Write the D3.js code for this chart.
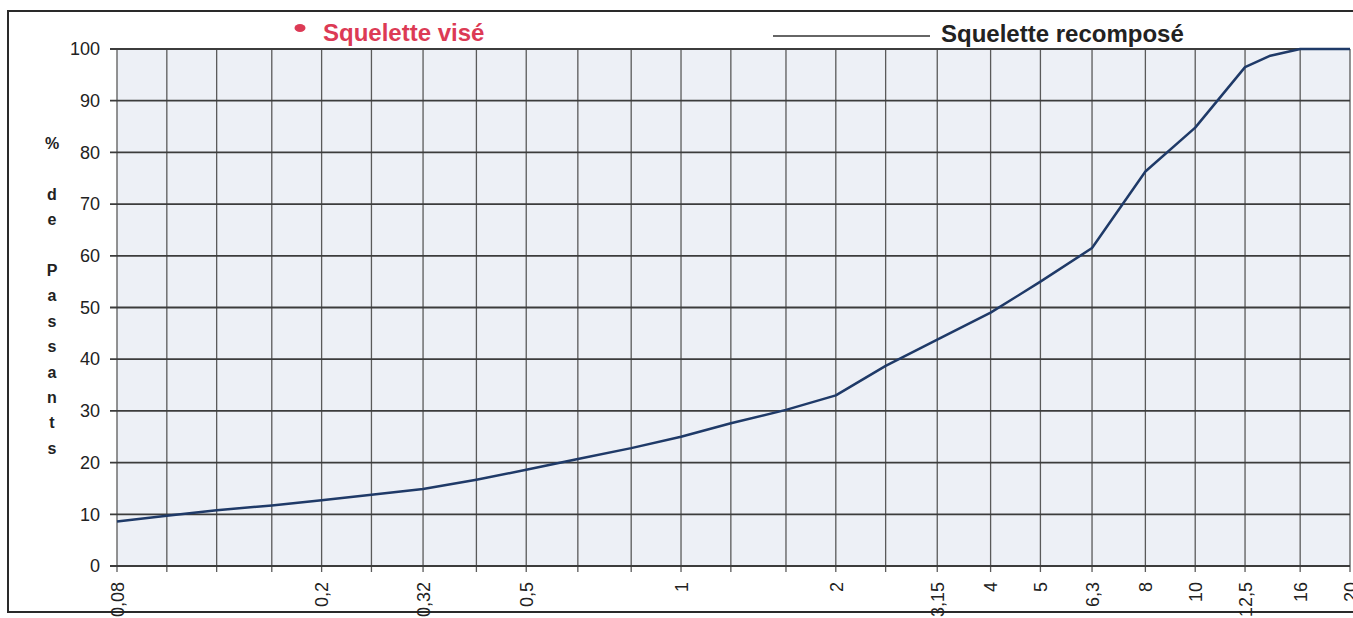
<!DOCTYPE html>
<html>
<head>
<meta charset="utf-8">
<script src="https://cdn.jsdelivr.net/npm/d3@7"></script>
<style>
  body { margin: 0; background: #fff; }
  svg { display: block; font-family: "Liberation Sans", Arial, sans-serif; }
</style>
</head>
<body>
<svg id="chart"></svg>
<script>
// sieve series (mm) used for the vertical grid
const sieves = [0.08, 0.1, 0.125, 0.16, 0.2, 0.25, 0.315, 0.4, 0.5, 0.63, 0.8, 1, 1.25, 1.6, 2, 2.5, 3.15, 4, 5, 6.3, 8, 10, 12.5, 16, 20];
// labelled sieves and their labels
const labelSieves = [0.08, 0.2, 0.315, 0.5, 1, 2, 3.15, 4, 5, 6.3, 8, 10, 12.5, 16, 20];
const sieveLabels = ["0,08", "0,2", "0,32", "0,5", "1", "2", "3,15", "4", "5", "6,3", "8", "10", "12,5", "16", "20"];
// Squelette recomposé curve
const curveSieves = [0.08, 0.1, 0.125, 0.16, 0.2, 0.25, 0.315, 0.4, 0.5, 0.63, 0.8, 1, 1.25, 1.6, 2, 2.5, 3.15, 4, 5, 6.3, 8, 10, 12.5, 14, 16, 20];
const curvePassing = [8.6, 9.7, 10.8, 11.7, 12.7, 13.8, 14.9, 16.7, 18.6, 20.7, 22.8, 25.0, 27.6, 30.2, 33.0, 38.7, 43.8, 49.0, 55.0, 61.5, 76.3, 84.8, 96.5, 98.7, 100, 100];
const yTicks = [0, 10, 20, 30, 40, 50, 60, 70, 80, 90, 100];
const yTitle = ["%", "", "d", "e", "", "P", "a", "s", "s", "a", "n", "t", "s"];
const legendTarget = "Squelette visé";
const legendCurve = "Squelette recomposé";

const width = 1353;
const height = 618;
const marginLeft = 117;
const marginRight = 3;
const marginTop = 49;
const marginBottom = 52;

const svg = d3.select("#chart")
    .attr("width", width)
    .attr("height", height)
    .attr("viewBox", [0, 0, width, height]);

const x = d3.scaleLog()
    .domain([0.08, 20])
    .range([marginLeft, width - marginRight]);

const y = d3.scaleLinear()
    .domain([0, 100])
    .range([height - marginBottom, marginTop]);

// outer frame
svg.append("rect")
    .attr("x", 8).attr("y", 11)
    .attr("width", width + 10).attr("height", 601)
    .attr("fill", "none")
    .attr("stroke", "#2a2a2a")
    .attr("stroke-width", 2);

// plot background
svg.append("rect")
    .attr("x", x(0.08)).attr("y", y(100))
    .attr("width", x(20) - x(0.08)).attr("height", y(0) - y(100))
    .attr("fill", "#edf0f6");

// vertical grid (goes a bit under the axis like ticks)
svg.append("g")
    .selectAll("line")
    .data(sieves)
    .join("line")
    .attr("x1", d => x(d)).attr("x2", d => x(d))
    .attr("y1", y(100)).attr("y2", y(0) + 6)
    .attr("stroke", "#5a5a5a")
    .attr("stroke-width", 1.3);

// horizontal grid
svg.append("g")
    .selectAll("line")
    .data(yTicks)
    .join("line")
    .attr("x1", marginLeft - 7).attr("x2", x(20))
    .attr("y1", d => y(d)).attr("y2", d => y(d))
    .attr("stroke", "#3c3c3c")
    .attr("stroke-width", 1.8);

// y axis labels
const yAxis = svg.append("g")
    .attr("transform", `translate(${marginLeft},0)`)
    .call(d3.axisLeft(y).tickValues(yTicks).tickSize(0).tickPadding(17));
yAxis.select(".domain").remove();
yAxis.selectAll("text")
    .attr("font-size", 18)
    .attr("font-family", "Liberation Sans, Arial, sans-serif")
    .attr("fill", "#222");

// x axis labels, rotated
const xAxis = svg.append("g")
    .attr("transform", `translate(0,${y(0)})`)
    .call(d3.axisBottom(x)
        .tickValues(labelSieves)
        .tickFormat((d, i) => sieveLabels[i])
        .tickSize(0));
xAxis.select(".domain").remove();
xAxis.selectAll("text")
    .attr("font-size", 18)
    .attr("font-family", "Liberation Sans, Arial, sans-serif")
    .attr("fill", "#222")
    .attr("transform", "rotate(-90)")
    .attr("text-anchor", "end")
    .attr("x", -16)
    .attr("y", 0)
    .attr("dy", "0.35em");

// y title, one letter per row
svg.append("g")
    .selectAll("text")
    .data(yTitle)
    .join("text")
    .attr("x", 52)
    .attr("y", (d, i) => 149 + i * 25.4)
    .attr("text-anchor", "middle")
    .attr("font-size", 16)
    .attr("font-weight", "bold")
    .attr("fill", "#222")
    .text(d => d);

// the curve
const line = d3.line()
    .x((d, i) => x(curveSieves[i]))
    .y(d => y(d));

svg.append("path")
    .datum(curvePassing)
    .attr("fill", "none")
    .attr("stroke", "#1f3a68")
    .attr("stroke-width", 2.5)
    .attr("stroke-linejoin", "round")
    .attr("d", line);

// legend
svg.append("ellipse")
    .attr("cx", 300).attr("cy", 28)
    .attr("rx", 5.5).attr("ry", 4)
    .attr("fill", "#dc3a55");
svg.append("text")
    .attr("x", 323).attr("y", 41)
    .attr("font-size", 24)
    .attr("font-weight", "bold")
    .attr("fill", "#dc3a55")
    .text(legendTarget);

svg.append("line")
    .attr("x1", 773).attr("x2", 930)
    .attr("y1", 36).attr("y2", 36)
    .attr("stroke", "#333")
    .attr("stroke-width", 1.6);
svg.append("text")
    .attr("x", 941).attr("y", 42)
    .attr("font-size", 24)
    .attr("font-weight", "bold")
    .attr("fill", "#222")
    .text(legendCurve);
</script>
</body>
</html>
